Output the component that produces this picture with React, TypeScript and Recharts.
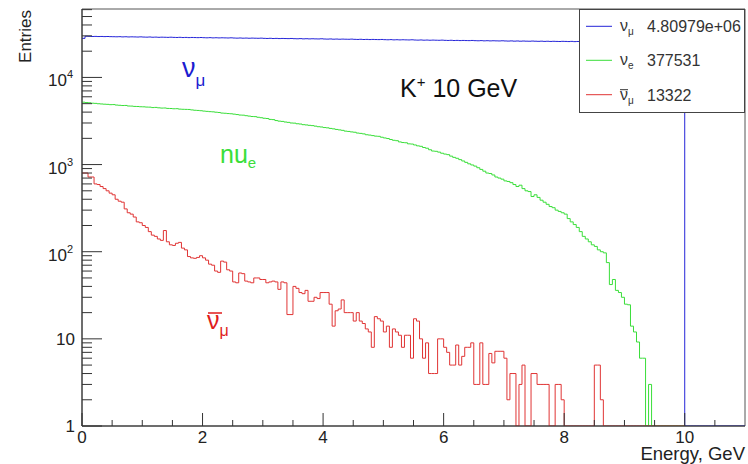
import React from "react";
import {
  Customized,
  Legend,
  Line,
  LineChart,
  ReferenceArea,
  XAxis,
  YAxis,
} from "recharts";

const FONT = '"Liberation Sans", Arial, Helvetica, sans-serif';
const BIN_WIDTH = 0.05;
const PLOT_LEFT = 82;
const PLOT_BOTTOM = 426;

const BLUE = "#2424d8";
const GREEN = "#3ade3a";
const RED = "#e03434";

// entries per 0.05 GeV bin (0 = empty bin)
const NU_MU_COUNTS = [
  28100, 29700, 29640, 29510, 29580, 29470, 29530, 29420, 29490, 29380,
  29330, 29270, 29360, 29200, 29290, 29150, 29240, 29180, 29090, 29210,
  29060, 28990, 29110, 28940, 29020, 28880, 28970, 28910, 28830, 28950,
  28820, 28740, 28860, 28700, 28790, 28650, 28760, 28690, 28610, 28720,
  28580, 28490, 28610, 28450, 28540, 28420, 28510, 28440, 28370, 28480,
  28330, 28250, 28360, 28210, 28300, 28170, 28270, 28190, 28130, 28240,
  28090, 28010, 28120, 27960, 28060, 27930, 28020, 27950, 27890, 28000,
  27850, 27770, 27880, 27720, 27810, 27690, 27780, 27700, 27650, 27760,
  27610, 27530, 27640, 27480, 27570, 27450, 27540, 27460, 27410, 27520,
  27370, 27290, 27400, 27240, 27330, 27210, 27300, 27220, 27170, 27280,
  27130, 27050, 27160, 27000, 27090, 26970, 27060, 26980, 26930, 27040,
  26890, 26810, 26920, 26760, 26850, 26730, 26820, 26740, 26690, 26800,
  26650, 26570, 26680, 26520, 26610, 26490, 26580, 26500, 26450, 26560,
  26420, 26350, 26460, 26300, 26390, 26270, 26360, 26280, 26230, 26340,
  26220, 26140, 26250, 26100, 26190, 26070, 26160, 26080, 26030, 26140,
  26040, 25970, 26070, 25920, 26010, 25890, 25980, 25900, 25850, 25960,
  25890, 25810, 25920, 25770, 25860, 25740, 25830, 25750, 25700, 25810,
  25740, 25660, 25770, 25620, 25710, 25590, 25680, 25600, 25550, 25660,
  25590, 25510, 25620, 25470, 25560, 25440, 25530, 25450, 25400, 25510,
  25440, 25360, 25470, 25320, 25410, 25290, 25380, 25300, 25250, 25360,
  0, 0, 0, 0, 0, 0, 0, 0, 0, 0,
  0, 0, 0, 0, 0, 0, 0, 0, 0, 0,
];

const NU_E_COUNTS = [
  5200, 5150, 5120, 5060, 5040, 4990, 4960, 4930, 4910, 4870,
  4880, 4820, 4790, 4760, 4770, 4700, 4690, 4650, 4640, 4610,
  4600, 4570, 4560, 4510, 4530, 4480, 4450, 4460, 4410, 4400,
  4370, 4380, 4330, 4310, 4300, 4290, 4240, 4200, 4180, 4150,
  4110, 4080, 4050, 4030, 3990, 3960, 3900, 3880, 3850, 3830,
  3790, 3750, 3700, 3690, 3640, 3600, 3560, 3550, 3490, 3450,
  3400, 3380, 3300, 3280, 3200, 3150, 3130, 3080, 3050, 3000,
  2990, 2940, 2920, 2870, 2850, 2820, 2800, 2760, 2720, 2700,
  2660, 2640, 2600, 2570, 2530, 2500, 2470, 2420, 2400, 2370,
  2350, 2300, 2280, 2250, 2200, 2180, 2150, 2120, 2110, 2060,
  2020, 1990, 1940, 1900, 1880, 1820, 1790, 1780, 1730, 1720,
  1680, 1640, 1620, 1570, 1540, 1480, 1430, 1420, 1390, 1350,
  1320, 1300, 1250, 1210, 1180, 1140, 1100, 1060, 1020, 990,
  960, 920, 880, 840, 800, 790, 760, 720, 700, 680,
  650, 640, 620, 590, 560, 580, 530, 500, 490, 430,
  450, 420, 390, 370, 350, 330, 320, 300, 290, 280,
  270, 240, 220, 205, 190, 170, 150, 140, 130, 120,
  115, 105, 100, 97, 75, 42, 48, 36, 34, 30,
  25, 24.6, 14, 12, 9.2, 6, 6, 0, 3, 0,
  0, 0, 0, 0, 0, 0, 0, 0, 0, 0,
];

const NU_MU_BAR_COUNTS = [
  800, 800, 720, 720, 600, 590, 560, 530, 500, 470,
  450, 400, 380, 370, 310, 280, 270, 250, 220, 215,
  200, 190, 170, 155, 150, 140, 135, 175, 130, 120,
  118, 125, 128, 110, 105, 88, 85, 84, 86, 90,
  85, 80, 72, 70, 60, 58, 78, 76, 62, 60,
  45, 44, 57, 56, 46, 45, 44, 50, 50, 48,
  48, 44, 45, 46, 45, 37, 45, 44, 19, 19,
  40, 38, 34, 33, 36, 27, 27, 30, 29, 34,
  34, 34, 25, 14, 21, 22, 28, 20, 20, 20,
  16, 20, 16, 15, 13, 12, 8, 18, 17, 16,
  12, 14, 8, 13, 12, 11, 8, 11, 11, 6,
  17, 16, 10, 6, 9, 4, 4, 4, 10, 10,
  8, 7, 5, 5, 8.5, 5, 6.3, 8, 8, 9,
  3, 3, 9, 3, 3, 6.8, 5.3, 7.2, 7.2, 7.2,
  6, 2, 4, 4, 0, 3, 5, 0, 0, 4,
  4, 3, 3, 3, 3, 0, 0, 3, 3, 2,
  0, 0, 0, 0, 0, 0, 0, 0, 0, 0,
  5, 5, 2, 0, 0, 0, 0, 0, 0, 0,
  0, 0, 0, 0, 0, 0, 0, 0, 0, 0,
  0, 0, 0, 0, 0, 0, 0, 0, 0, 0,
];

const X_TICKS = [0, 0.5, 1, 1.5, 2, 2.5, 3, 3.5, 4, 4.5, 5, 5.5, 6, 6.5, 7, 7.5, 8, 8.5, 9, 9.5, 10, 10.5];
const X_LABELS = [0, 2, 4, 6, 8, 10];

const Y_TICKS = [
  1, 2, 3, 4, 5, 6, 7, 8, 9,
  10, 20, 30, 40, 50, 60, 70, 80, 90,
  100, 200, 300, 400, 500, 600, 700, 800, 900,
  1000, 2000, 3000, 4000, 5000, 6000, 7000, 8000, 9000,
  10000, 20000, 30000, 40000, 50000, 60000,
];
const Y_LABELS: Record<number, string[]> = {
  1: ["1"],
  10: ["10"],
  100: ["10", "2"],
  1000: ["10", "3"],
  10000: ["10", "4"],
};

const LEGEND_ROWS = [
  { sub: "μ", bar: false, count: "4.80979e+06", color: BLUE },
  { sub: "e", bar: false, count: "377531", color: GREEN },
  { sub: "μ", bar: true, count: "13322", color: RED },
];

// histogram -> step points; empty bins sit on the log-axis floor
function toSteps(counts: number[]) {
  const pts = counts.map((c, i) => ({ e: +(i * BIN_WIDTH).toFixed(2), v: Math.max(c, 1) }));
  pts.push({ e: +(counts.length * BIN_WIDTH).toFixed(2), v: Math.max(counts[counts.length - 1], 1) });
  return pts;
}

const nuMu = toSteps(NU_MU_COUNTS);
const nuE = toSteps(NU_E_COUNTS);
const nuMuBar = toSteps(NU_MU_BAR_COUNTS);

function YTick(props: any) {
  const { y, payload } = props;
  const label = Y_LABELS[payload.value];
  return (
    <g>
      <line x1={PLOT_LEFT} x2={PLOT_LEFT + (label ? 20 : 10)} y1={y} y2={y} stroke="#333" />
      {label && label.length === 1 && (
        <text x={PLOT_LEFT - 7} y={y + 6} textAnchor="end" fontSize={17} fill="#222" fontFamily={FONT}>
          {label[0]}
        </text>
      )}
      {label && label.length === 2 && (
        <text x={PLOT_LEFT - 9} y={y + 9} textAnchor="end" fontSize={17} fill="#222" fontFamily={FONT}>
          {label[0]}
          <tspan dy={-8} fontSize={11}>
            {label[1]}
          </tspan>
        </text>
      )}
    </g>
  );
}

function XTick(props: any) {
  const { x, payload } = props;
  const major = X_LABELS.includes(payload.value);
  return (
    <g>
      <line x1={x} x2={x} y1={PLOT_BOTTOM} y2={PLOT_BOTTOM - (major ? 13 : 6)} stroke="#333" />
      {major && (
        <text x={x} y={443} textAnchor="middle" fontSize={17} fill="#222" fontFamily={FONT}>
          {payload.value}
        </text>
      )}
    </g>
  );
}

function Annotations() {
  return (
    <g fontFamily={FONT}>
      <text x={31} y={10} transform="rotate(-90 31 10)" textAnchor="end" fontSize={17} fill="#222">
        Entries
      </text>
      <text x={745} y={460} textAnchor="end" fontSize={18.5} fill="#222">
        Energy, GeV
      </text>
      <text x={400} y={97} fontSize={25} fill="#111">
        K
        <tspan dy={-10} fontSize={15}>+</tspan>
        <tspan dy={10}> 10 GeV</tspan>
      </text>
      <text x={182} y={77} fontSize={27} fill="#1c1cd0">
        ν
        <tspan dy={9} fontSize={17}>μ</tspan>
      </text>
      <text x={220} y={163} fontSize={25} fill={GREEN}>
        nu
        <tspan dy={5} fontSize={15}>e</tspan>
      </text>
      <line x1={208} x2={222} y1={313} y2={313} stroke="#e01c1c" strokeWidth={1.5} />
      <text x={207} y={329} fontSize={25} fill="#e01c1c">
        ν
        <tspan dy={7} fontSize={16}>μ</tspan>
      </text>
    </g>
  );
}

function LegendBox() {
  const rowY = [17.3, 51.3, 85.7];
  return (
    <svg width={166} height={104} style={{ display: "block", fontFamily: FONT }}>
      <rect x={0.5} y={0.5} width={165} height={103} fill="#fff" stroke="#444" />
      {LEGEND_ROWS.map((row, i) => (
        <g key={i}>
          <line x1={7} x2={33} y1={rowY[i]} y2={rowY[i]} stroke={row.color} />
          {row.bar && <line x1={41} x2={49} y1={rowY[i] - 5} y2={rowY[i] - 5} stroke="#333" />}
          <text x={41} y={rowY[i] + 5} fontSize={16} fill="#333">
            ν
            <tspan dy={4} fontSize={10}>{row.sub}</tspan>
          </text>
          <text x={68} y={rowY[i] + 6} fontSize={16} fill="#333">
            {row.count}
          </text>
        </g>
      ))}
    </svg>
  );
}

export default function App() {
  return (
    <div
      style={{
        position: "fixed",
        left: 0,
        top: 0,
        width: 748,
        height: 464,
        background: "#fff",
        fontFamily: FONT,
      }}
    >
      <LineChart width={748} height={464} margin={{ top: 9, right: 3, bottom: 0, left: 0 }}>
        <XAxis
          dataKey="e"
          type="number"
          domain={[0, 11]}
          ticks={X_TICKS}
          interval={0}
          tick={XTick}
          tickLine={false}
          tickSize={0}
          tickMargin={0}
          height={38}
          axisLine={{ stroke: "#333" }}
          allowDataOverflow
        />
        <YAxis
          type="number"
          scale="log"
          domain={[1, 61000]}
          ticks={Y_TICKS}
          interval={0}
          tick={YTick}
          tickLine={false}
          tickSize={0}
          tickMargin={0}
          width={PLOT_LEFT}
          axisLine={{ stroke: "#333" }}
          allowDataOverflow
        />
        <ReferenceArea x1={0} x2={11} y1={1} y2={61000} fill="none" stroke="#555" ifOverflow="visible" />
        <Line data={nuMu} dataKey="v" name="nu_mu" type="stepAfter" stroke={BLUE} strokeWidth={1} dot={false} activeDot={false} isAnimationActive={false} />
        <Line data={nuE} dataKey="v" name="nu_e" type="stepAfter" stroke={GREEN} strokeWidth={1} dot={false} activeDot={false} isAnimationActive={false} />
        <Line data={nuMuBar} dataKey="v" name="anti_nu_mu" type="stepAfter" stroke={RED} strokeWidth={1} dot={false} activeDot={false} isAnimationActive={false} />
        <Customized component={Annotations} />
        <Legend
          layout="vertical"
          align="center"
          verticalAlign="middle"
          content={() => <LegendBox />}
          wrapperStyle={{ position: "absolute", left: 579, top: 9, width: 166, height: 104 }}
        />
      </LineChart>
    </div>
  );
}
